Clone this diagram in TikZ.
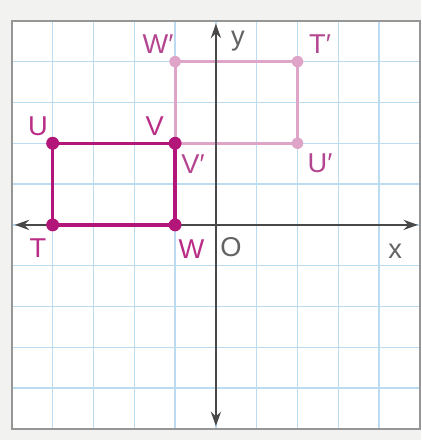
\documentclass[tikz,border=0pt]{standalone}
\usepackage{fontspec}
\setmainfont{Liberation Sans}
\usetikzlibrary{arrows.meta}
\definecolor{paperbg}{RGB}{242,242,240}
\definecolor{gridblue}{RGB}{188,218,240}
\definecolor{framegray}{RGB}{150,150,150}
\definecolor{axisgray}{RGB}{72,72,72}
\definecolor{preimg}{RGB}{178,22,120}
\definecolor{imgpink}{RGB}{222,165,200}
\definecolor{prelabel}{RGB}{185,45,135}
\definecolor{imglabel}{RGB}{180,70,145}
\tikzset{
  gridline/.style={draw=gridblue,line width=1pt},
  framebox/.style={draw=framegray,line width=1.1pt,fill=white},
  axisline/.style={{Stealth[length=10pt,width=7pt]}-{Stealth[length=10pt,width=7pt]},draw=axisgray,line width=1.8pt},
  prerect/.style={draw=preimg,line width=2.4pt,line join=round},
  imgrect/.style={draw=imgpink,line width=2.1pt,line join=round},
  predot/.style={circle,fill=preimg,inner sep=0pt,minimum size=9pt},
  imgdot/.style={circle,fill=imgpink,inner sep=0pt,minimum size=8pt},
  ptlabel/.style={font=\fontsize{19}{19}\selectfont,inner sep=0pt},
  prelbl/.style={ptlabel,text=prelabel},
  imglbl/.style={ptlabel,text=imglabel},
  axlbl/.style={ptlabel,text=axisgray!85}
}

\begin{document}
\begin{tikzpicture}
  % page and grid paper
  \fill[paperbg] (-5.29,-5.27) rectangle (5.03,5.51);
  \useasboundingbox (-5.29,-5.27) rectangle (5.03,5.51);
  \draw[framebox] (-5,-5) rectangle (5,5);
  \draw[gridline] (-5,-5) grid (5,5);
  \draw[framebox,fill=none] (-5,-5) rectangle (5,5);

  % vertices
  \coordinate (T) at (-4,0);
  \coordinate (U) at (-4,2);
  \coordinate (V) at (-1,2);
  \coordinate (W) at (-1,0);
  \coordinate (Tp) at (2,4);
  \coordinate (Up) at (2,2);
  \coordinate (Vp) at (-1,2);
  \coordinate (Wp) at (-1,4);

  % image
  \draw[imgrect] (Wp) -- (Tp) -- (Up) -- (Vp) -- cycle;
  \node[imgdot] (dWp) at (Wp) {};
  \node[imgdot] (dTp) at (Tp) {};
  \node[imgdot] (dUp) at (Up) {};

  % axes
  \coordinate (xl) at (-4.93,0);
  \coordinate (xr) at (4.95,0);
  \coordinate (yb) at (0,-4.93);
  \coordinate (yt) at (0,4.93);
  \draw[axisline] (xl) -- (xr);
  \draw[axisline] (yb) -- (yt);

  % preimage
  \draw[prerect] (T) -- (U) -- (V) -- (W) -- cycle;
  \node[predot] (dT) at (T) {};
  \node[predot] (dU) at (U) {};
  \node[predot] (dV) at (V) {};
  \node[predot] (dW) at (W) {};

  %% Labels
  \node[prelbl] (lU) at (-4.36,2.42) {U};
  \node[prelbl] (lV) at (-1.5,2.42) {V};
  \node[prelbl] (lT) at (-4.36,-0.58) {T};
  \node[prelbl] (lW) at (-0.6,-0.6) {W};
  \node[imglbl] (lWp) at (-1.42,4.42) {W′};
  \node[imglbl] (lTp) at (2.55,4.42) {T′};
  \node[imglbl] (lUp) at (2.55,1.5) {U′};
  \node[imglbl] (lVp) at (-0.56,1.5) {V′};
  \node[axlbl] (lO) at (0.37,-0.54) {O};
  \node[axlbl] (lx) at (4.39,-0.64) {x};
  \node[axlbl] (ly) at (0.54,4.5) {y};
\end{tikzpicture}
\end{document}
